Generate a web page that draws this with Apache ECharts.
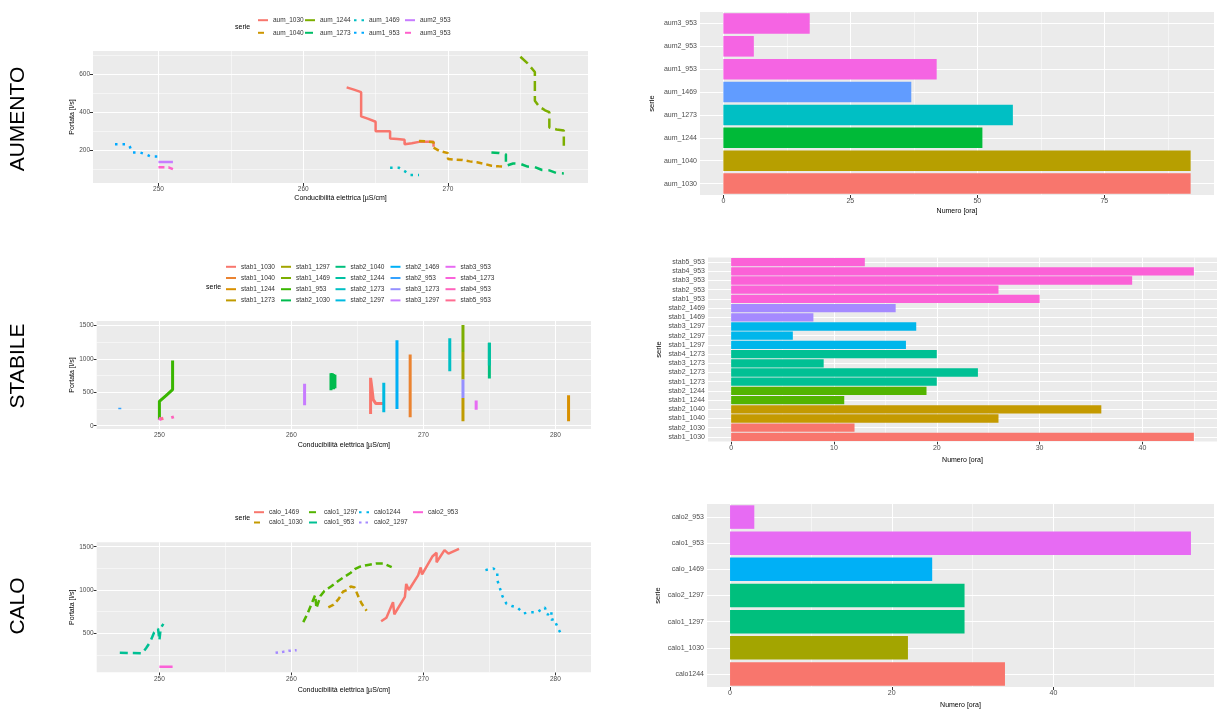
<!DOCTYPE html>
<html><head><meta charset="utf-8">
<script src="https://cdn.jsdelivr.net/npm/echarts@6/dist/echarts.min.js"></script>
<style>html,body{margin:0;padding:0;background:#fff}#c{width:1223px;height:720px}</style>
</head><body><div id="c"></div>
<script>
// ---------- AUMENTO : lines ----------
const aumNames = ['aum_1030','aum_1040','aum_1244','aum_1273','aum_1469','aum1_953','aum2_953','aum3_953'];
const aum_1030 = [[263.0,530],[263.5,518],[264.0,505],[264.0,378],[264.5,365],[265.0,350],[265.0,300],[265.5,300],[266.0,300],[266.0,263],[266.5,260],[267.0,256],[267.0,232],[267.5,238],[268.0,245],[268.5,245],[269.0,245],[269.0,220]];
const aum_1040 = [[268.0,250],[268.5,248],[269.0,243],[269.0,215],[269.4,198],[270.0,186],[270.0,156],[270.5,152],[271.0,150],[271.5,143],[272.0,138],[272.5,130],[273.0,120],[273.5,117],[274.0,115]];
const aum_1244 = [[275.0,690],[275.5,655],[276.0,610],[276.0,460],[276.3,430],[276.7,410],[277.0,400],[277.0,320],[277.5,310],[278.0,305],[278.0,225]];
const aum_1273 = [[273.0,190],[273.5,187],[274.0,180],[274.0,120],[274.5,132],[275.0,130],[275.5,116],[276.0,113],[276.5,98],[277.0,96],[277.5,82],[278.0,80]];
const aum_1469 = [[266.0,110],[266.6,110],[267.0,92],[267.4,72],[268.0,72]];
const aum1_953 = [[247.0,232],[247.7,232],[248.0,224],[248.2,190],[248.7,190],[249.1,181],[249.5,168],[250.0,168]];
const aum2_953 = [[250.0,140],[251.0,140]];
const aum3_953 = [[250.0,112],[250.7,112],[250.8,102],[251.0,102]];
const aumLineData = [aum_1030,aum_1040,aum_1244,aum_1273,aum_1469,aum1_953,aum2_953,aum3_953];
const aumLineColors = ['#F8766D','#CD9600','#7CAE00','#00BE67','#00BFC4','#00A9FF','#C77CFF','#FF61CC'];
const aumDash = ['solid',[6,4],[10,5],[8,6],[2.5,5],[2.5,5],'solid',[6,4]];
const aumXTicks = [250,260,270];
const aumYTicks = [200,400,600];

// ---------- AUMENTO : bars ----------
const aumCats = ['aum_1030','aum_1040','aum_1244','aum_1273','aum_1469','aum1_953','aum2_953','aum3_953'];
const aumHours = [92,92,51,57,37,42,6,17];
const aumBarColors = ['#F8766D','#B79F00','#00BA38','#00BFC4','#619CFF','#F564E3','#F564E3','#F564E3'];
const aumHourTicks = [0,25,50,75];

// ---------- STABILE : lines ----------
const stabNames = ['stab1_1030','stab1_1040','stab1_1244','stab1_1273','stab1_1297','stab1_1469','stab1_953','stab2_1030','stab2_1040','stab2_1244','stab2_1273','stab2_1297','stab2_1469','stab2_953','stab3_1273','stab3_1297','stab3_953','stab4_1273','stab4_953','stab5_953'];
const stab1_1030 = [[266.0,175],[266.0,715],[266.1,560],[266.2,390],[266.4,330],[267.0,330]];
const stab1_1040 = [[269.0,125],[269.0,1065]];
const stab1_1244 = [[281.0,65],[281.0,455]];
const stab1_1273 = [[273.0,65],[273.0,415]];
const stab1_1297 = [[273.0,690],[273.0,1100]];
const stab1_1469 = [[273.0,1100],[273.0,1505]];
const stab1_953 = [[250.0,90],[250.0,365],[250.5,450],[251.0,540],[251.0,975]];
const stab2_1030 = [[263.0,530],[263.0,785],[263.1,560],[263.1,780],[263.2,545],[263.2,770],[263.3,560],[263.3,760]];
const stab2_1040 = [[275.0,705],[275.0,1240]];
const stab2_1244 = [[275.0,900],[275.0,1240]];
const stab2_1273 = [[272.0,815],[272.0,1305]];
const stab2_1297 = [[267.0,200],[267.0,640]];
const stab2_1469 = [[268.0,250],[268.0,1275]];
const stab2_953 = [[247.0,245],[247.0,268]];
const stab3_1273 = [[273.0,415],[273.0,690]];
const stab3_1297 = [[261.0,305],[261.0,625]];
const stab3_953 = [[274.0,240],[274.0,375]];
const stab4_1273 = [[250.0,80],[250.1,125]];
const stab4_953 = [[250.9,120],[251.1,132]];
const stab5_953 = [[250.1,100],[250.3,112]];
const stabLineData = [stab1_1030,stab1_1040,stab1_1244,stab1_1273,stab1_1297,stab1_1469,stab1_953,stab2_1030,stab2_1040,stab2_1244,stab2_1273,stab2_1297,stab2_1469,stab2_953,stab3_1273,stab3_1297,stab3_953,stab4_1273,stab4_953,stab5_953];
const stabLineColors = ['#F8766D','#EA8331','#D89000','#C09B00','#A3A500','#7CAE00','#39B600','#00BB4E','#00BF7D','#00C1A3','#00BFC4','#00BAE0','#00B0F6','#35A2FF','#9590FF','#C77CFF','#E76BF3','#FA62DB','#FF62BC','#FF6C91'];
const lineXTicks = [250,260,270,280];
const stabYTicks = [0,500,1000,1500];

// ---------- STABILE : bars ----------
const stabCats = ['stab1_1030','stab2_1030','stab1_1040','stab2_1040','stab1_1244','stab2_1244','stab1_1273','stab2_1273','stab3_1273','stab4_1273','stab1_1297','stab2_1297','stab3_1297','stab1_1469','stab2_1469','stab1_953','stab2_953','stab3_953','stab4_953','stab5_953'];
const stabHours = [45,12,26,36,11,19,20,24,9,20,17,6,18,8,16,30,26,39,45,13];
const stabBarColors = ['#F8766D','#F8766D','#C49A00','#C49A00','#53B400','#53B400','#00C094','#00C094','#00C094','#00C094','#00B6EB','#00B6EB','#00B6EB','#A58AFF','#A58AFF','#FB61D7','#FB61D7','#FB61D7','#FB61D7','#FB61D7'];
const stabHourTicks = [0,10,20,30,40];

// ---------- CALO : lines ----------
const caloNames = ['calo_1469','calo1_1030','calo1_1297','calo1_953','calo1244','calo2_1297','calo2_953'];
const calo_1469 = [[266.8,640],[267.2,680],[267.7,860],[267.8,720],[268.6,920],[268.7,1070],[268.9,1000],[269.6,1170],[269.8,1260],[269.9,1180],[270.7,1390],[271.0,1430],[271.0,1320],[271.6,1460],[271.9,1420],[272.7,1475]];
const calo1_1030 = [[262.8,800],[263.2,830],[263.6,900],[263.9,980],[264.2,1000],[264.5,1040],[264.8,1030],[265.0,950],[265.3,850],[265.7,760]];
const calo1_1297 = [[260.9,630],[261.2,720],[261.5,830],[261.8,940],[261.9,790],[262.2,930],[262.5,990],[263.0,1040],[263.6,1110],[264.1,1160],[264.5,1200],[264.8,1240],[265.2,1270],[265.8,1290],[266.4,1305],[267.0,1305],[267.6,1265]];
const calo1_953 = [[247.0,275],[248.0,272],[248.7,268],[249.0,330],[249.3,400],[249.6,510],[249.9,555],[250.0,420],[250.1,560],[250.3,610]];
const calo1244 = [[274.7,1230],[275.3,1250],[275.6,1210],[275.6,1115],[275.8,1020],[276.0,925],[276.3,840],[276.7,815],[277.1,800],[277.6,730],[278.0,742],[278.6,742],[279.2,800],[279.4,712],[279.7,758],[279.7,655],[279.9,665],[280.2,560],[280.5,470]];
const calo2_1297 = [[258.8,275],[259.4,288],[259.8,298],[260.4,305]];
const calo2_953 = [[250.0,115],[251.0,115]];
const caloLineData = [calo_1469,calo1_1030,calo1_1297,calo1_953,calo1244,calo2_1297,calo2_953];
const caloLineColors = ['#F8766D','#C49A00','#53B400','#00C094','#00B6EB','#A58AFF','#FB61D7'];
const caloDash = ['solid',[6,4],[7,4],[8,5],[2.5,5],[2.5,4],'solid'];
const caloYTicks = [500,1000,1500];

// ---------- CALO : bars ----------
const caloCats = ['calo1244','calo1_1030','calo1_1297','calo2_1297','calo_1469','calo1_953','calo2_953'];
const caloHours = [34,22,29,29,25,57,3];
const caloBarColors = ['#F8766D','#A3A500','#00BF7D','#00BF7D','#00B0F6','#E76BF3','#E76BF3'];
const caloHourTicks = [0,20,40];

// ================= build =================
const FONT = 'Liberation Sans, Arial, Helvetica, sans-serif';
const chart = echarts.init(document.getElementById('c'), null, {renderer:'canvas'});

const grids = [
  {left:93, top:51, width:495, height:132},
  {left:700, top:12, width:514, height:183},
  {left:96.7, top:321, width:494.3, height:108},
  {left:708, top:257.5, width:509, height:184},
  {left:96.7, top:542.3, width:494.3, height:130},
  {left:707, top:504, width:507, height:183}
].map(g => Object.assign({containLabel:false, outerBoundsMode:'none', show:true, backgroundColor:'#EBEBEB', borderWidth:0}, g));

function valAxis(gi, min, max, ticks, name, gap, fs, isY) {
  const a = {
    type:'value', gridIndex:gi, min:min, max:max,
    axisLine:{show:false}, splitLine:{show:false},
    axisTick:{show:true, customValues:ticks, length:3, lineStyle:{color:'#333333', width:1}},
    axisLabel:{customValues:ticks, fontSize:fs, color:'#4D4D4D', margin:3, fontFamily:FONT, formatter: v => String(v)},
    name:name, nameLocation:'middle', nameGap:gap,
    nameTextStyle:{fontSize:7, color:'#000', fontFamily:FONT}
  };
  if (isY) a.nameRotate = 90;
  return a;
}
function catAxis(gi, cats, gap) {
  return {
    type:'category', gridIndex:gi, data:cats,
    axisLine:{show:false}, splitLine:{show:false},
    axisTick:{show:true, alignWithLabel:true, length:3, lineStyle:{color:'#333333'}},
    axisLabel:{fontSize:7, color:'#4D4D4D', margin:3, fontFamily:FONT, interval:0},
    name:'serie', nameLocation:'middle', nameGap:gap, nameRotate:90,
    nameTextStyle:{fontSize:7.5, color:'#000', fontFamily:FONT}
  };
}
const XT = 'Conducibilità elettrica [µS/cm]';
const xAxes = [
  valAxis(0, 245.48, 279.67, aumXTicks, XT, 12, 6.5, false),
  valAxis(1, -4.6, 96.6, aumHourTicks, 'Numero [ora]', 13, 7, false),
  valAxis(2, 245.25, 282.7, lineXTicks, XT, 12.5, 6.5, false),
  valAxis(3, -2.25, 47.25, stabHourTicks, 'Numero [ora]', 15, 7, false),
  valAxis(4, 245.25, 282.7, lineXTicks, XT, 14, 6.5, false),
  valAxis(5, -2.85, 59.85, caloHourTicks, 'Numero [ora]', 15, 7, false)
];
const yAxes = [
  valAxis(0, 30, 720, aumYTicks, 'Portata [l/s]', 16, 6.5, true),
  catAxis(1, aumCats, 44),
  valAxis(2, -49, 1564, stabYTicks, 'Portata [l/s]', 19, 6.5, true),
  catAxis(3, stabCats, 45),
  valAxis(4, 50, 1551, caloYTicks, 'Portata [l/s]', 19, 6.5, true),
  catAxis(5, caloCats, 45)
];

function glines(key, vals, w) {
  return vals.map(v => ({[key]: v, lineStyle:{color:'#FFFFFF', width:w, type:'solid'}}));
}
function gridSeries(gi, items) {
  return {type:'line', xAxisIndex:gi, yAxisIndex:gi, data:[], z:1, silent:true, animation:false,
    markLine:{z:1, silent:true, symbol:['none','none'], label:{show:false}, animation:false, emphasis:{disabled:true}, data:items}};
}
const series = [];
series.push(gridSeries(0, [].concat(glines('xAxis',[255,265,275],0.5), glines('yAxis',[100,300,500,700],0.5), glines('xAxis',aumXTicks,1), glines('yAxis',aumYTicks,1))));
series.push(gridSeries(1, [].concat(glines('xAxis',[12.5,37.5,62.5,87.5],0.5), glines('xAxis',aumHourTicks,1), glines('yAxis',aumCats,1))));
series.push(gridSeries(2, [].concat(glines('xAxis',[255,265,275],0.5), glines('yAxis',[250,750,1250],0.5), glines('xAxis',lineXTicks,1), glines('yAxis',stabYTicks,1))));
series.push(gridSeries(3, [].concat(glines('xAxis',[5,15,25,35,45],0.5), glines('xAxis',stabHourTicks,1), glines('yAxis',stabCats,1))));
series.push(gridSeries(4, [].concat(glines('xAxis',[255,265,275],0.5), glines('yAxis',[250,750,1250],0.5), glines('xAxis',lineXTicks,1), glines('yAxis',caloYTicks,1))));
series.push(gridSeries(5, [].concat(glines('xAxis',[10,30,50],0.5), glines('xAxis',caloHourTicks,1), glines('yAxis',caloCats,1))));

function lineS(name, data, color, dash, gi, w) {
  return {type:'line', name:name, data:data, xAxisIndex:gi, yAxisIndex:gi, symbol:'none', showSymbol:false,
    lineStyle:{color:color, width:w, type:dash}, itemStyle:{color:color}, z:3, animation:false, emphasis:{disabled:true}};
}
aumNames.forEach((n,i) => series.push(lineS(n, aumLineData[i], aumLineColors[i], aumDash[i], 0, 2.5)));
stabNames.forEach((n,i) => series.push(lineS(n, stabLineData[i], stabLineColors[i], 'solid', 2, 3)));
caloNames.forEach((n,i) => series.push(lineS(n, caloLineData[i], caloLineColors[i], caloDash[i], 4, 2.5)));

function barS(gi, vals, colors) {
  return {type:'bar', xAxisIndex:gi, yAxisIndex:gi, barCategoryGap:'10%', z:3, animation:false,
    data: vals.map((v,i) => ({value:v, itemStyle:{color:colors[i]}}))};
}
series.push(barS(1, aumHours, aumBarColors));
series.push(barS(3, stabHours, stabBarColors));
series.push(barS(5, caloHours, caloBarColors));

function legendCol(names, left, top, gap, fs) {
  return {orient:'vertical', left:left, top:top, padding:0, itemWidth:10, itemHeight:8, itemGap:gap,
    selectedMode:false, data:names,
    itemStyle:{color:'rgba(0,0,0,0)', borderWidth:0, opacity:0},
    textStyle:{fontSize:fs, color:'#333', fontFamily:FONT}};
}
const legends = [
  legendCol(['aum_1030','aum_1040'], 257, 16.7, 5.6, 6.5),
  legendCol(['aum_1244','aum_1273'], 304, 16.7, 5.6, 6.5),
  legendCol(['aum_1469','aum1_953'], 353, 16.7, 5.6, 6.5),
  legendCol(['aum2_953','aum3_953'], 404, 16.7, 5.6, 6.5),
  legendCol(['stab1_1030','stab1_1040','stab1_1244','stab1_1273'], 225, 263.3, 4.2, 6.5),
  legendCol(['stab1_1297','stab1_1469','stab1_953','stab2_1030'], 280, 263.3, 4.2, 6.5),
  legendCol(['stab2_1040','stab2_1244','stab2_1273','stab2_1297'], 334.5, 263.3, 4.2, 6.5),
  legendCol(['stab2_1469','stab2_953','stab3_1273','stab3_1297'], 389.5, 263.3, 4.2, 6.5),
  legendCol(['stab3_953','stab4_1273','stab4_953','stab5_953'], 444.5, 263.3, 4.2, 6.5),
  legendCol(['calo_1469','calo1_1030'], 253, 508.7, 3.3, 6.5),
  legendCol(['calo1_1297','calo1_953'], 308, 508.7, 3.3, 6.5),
  legendCol(['calo1244','calo2_1297'], 358, 508.7, 3.3, 6.5),
  legendCol(['calo2_953'], 412, 508.7, 3.3, 6.5)
];

function txt(text, x, y, size, rot, align) {
  return {type:'text', x:x, y:y, rotation:rot || 0, silent:true,
    style:{text:text, fontSize:size, fontFamily:FONT, fill:'#000', align:align || 'center', verticalAlign:'middle'}};
}
const graphics = [
  txt('AUMENTO', 18, 119, 21, Math.PI/2),
  txt('STABILE', 18, 366, 21, Math.PI/2),
  txt('CALO', 18, 606, 21, Math.PI/2),
  txt('serie', 235, 27.3, 7, 0, 'left'),
  txt('serie', 206, 286.7, 7, 0, 'left'),
  txt('serie', 235, 518.3, 7, 0, 'left')
];

chart.setOption({
  animation:false,
  backgroundColor:'#FFFFFF',
  textStyle:{fontFamily:FONT},
  grid:grids, xAxis:xAxes, yAxis:yAxes,
  legend:legends, series:series, graphic:graphics
});
</script></body></html>
